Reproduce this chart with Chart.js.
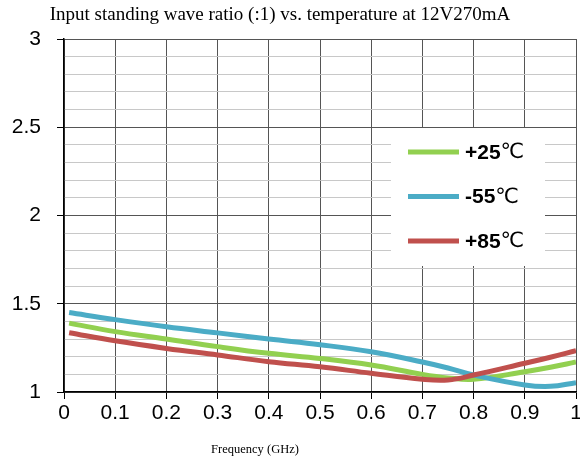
<!DOCTYPE html>
<html>
<head>
<meta charset="utf-8">
<script src="https://cdn.jsdelivr.net/npm/chart.js@4"></script>
<style>
  body { margin: 0; background: #fff; }
  #wrap { width: 580px; height: 463px; }
</style>
</head>
<body>
<div id="wrap"><canvas id="chart" width="580" height="463"></canvas></div>
<script>
const titleText = 'Input standing wave ratio (:1) vs. temperature at 12V270mA';
const xTitle = 'Frequency (GHz)';

const freqs = [0.01, 0.1, 0.2, 0.3, 0.4, 0.5, 0.6, 0.7, 0.75, 0.8, 0.9, 0.95, 1.0];
const plus25 = [1.39, 1.342, 1.30, 1.257, 1.219, 1.19, 1.153, 1.10, 1.08, 1.072, 1.115, 1.14, 1.17];
const minus55 = [1.45, 1.41, 1.37, 1.335, 1.30, 1.268, 1.228, 1.17, 1.136, 1.096, 1.04, 1.032, 1.053];
const plus85 = [1.336, 1.29, 1.247, 1.21, 1.172, 1.143, 1.106, 1.072, 1.068, 1.096, 1.163, 1.197, 1.234];

const seriesLabels = ['+25℃', '-55℃', '+85℃'];
const seriesColors = ['#92d050', '#4bacc6', '#c0504d'];

const pts = vals => vals.map((v, i) => ({ x: freqs[i], y: v }));

// legend box + titles drawn on the canvas
const extras = {
  id: 'extras',
  afterDraw(chart) {
    const ctx = chart.ctx;
    const a = chart.chartArea;
    ctx.save();
    ctx.fillStyle = '#fff';
    ctx.fillRect(a.left + 327, a.top + 89, 154, 138);
    seriesLabels.forEach((lab, i) => {
      const y = a.top + 113 + i * 44.5;
      ctx.strokeStyle = seriesColors[i];
      ctx.lineWidth = 5;
      ctx.beginPath();
      ctx.moveTo(a.left + 344, y);
      ctx.lineTo(a.left + 395, y);
      ctx.stroke();
      const num = lab.replace('℃', '');
      ctx.fillStyle = '#000';
      ctx.textBaseline = 'middle';
      ctx.textAlign = 'left';
      ctx.font = 'bold 21px "Liberation Sans", Arial, sans-serif';
      ctx.fillText(num, a.left + 401, y + 1);
      const w = ctx.measureText(num).width;
      ctx.font = '21px "DejaVu Sans", "Noto Sans CJK SC", sans-serif';
      ctx.fillText('℃', a.left + 401 + w, y + 1);
    });
    ctx.fillStyle = '#000';
    ctx.textAlign = 'center';
    ctx.textBaseline = 'middle';
    ctx.font = '19px "Liberation Serif", "Times New Roman", serif';
    ctx.fillText(titleText, 280, 15);
    ctx.font = '12.5px "Liberation Serif", "Times New Roman", serif';
    ctx.fillText(xTitle, 255, 450);
    ctx.restore();
  }
};

const isMajor = v => Math.round(v * 10) % 5 === 0;

new Chart(document.getElementById('chart').getContext('2d'), {
  type: 'line',
  data: {
    datasets: [
      { label: seriesLabels[0], data: pts(plus25), borderColor: seriesColors[0], order: 2 },
      { label: seriesLabels[1], data: pts(minus55), borderColor: seriesColors[1], order: 1 },
      { label: seriesLabels[2], data: pts(plus85), borderColor: seriesColors[2], order: 0 }
    ]
  },
  options: {
    responsive: false,
    animation: false,
    layout: { padding: { top: 39, right: 4, bottom: 41, left: 0 } },
    elements: {
      line: { borderWidth: 5, tension: 0.4, fill: false },
      point: { radius: 0 }
    },
    plugins: {
      legend: { display: false },
      title: { display: false },
      tooltip: { enabled: false }
    },
    scales: {
      x: {
        type: 'linear',
        min: 0,
        max: 1,
        afterFit: s => { s.height = 30; s.paddingRight = 0; s.paddingLeft = 0; },
        ticks: {
          stepSize: 0.1,
          autoSkip: false,
          maxRotation: 0,
          padding: 2,
          color: '#000',
          font: { family: '"Liberation Sans", Arial, sans-serif', size: 21 },
          callback: v => String(Number(v.toFixed(1)))
        },
        grid: { color: '#555', tickColor: '#000', tickLength: 7, lineWidth: 1 },
        border: { color: '#000', width: 1.5 }
      },
      y: {
        min: 1,
        max: 3,
        afterFit: s => { s.width = 64; },
        ticks: {
          stepSize: 0.1,
          autoSkip: false,
          padding: 16,
          color: '#000',
          font: { family: '"Liberation Sans", Arial, sans-serif', size: 21 },
          callback: v => isMajor(v) ? String(Math.round(v * 10) / 10) : ''
        },
        grid: {
          color: c => isMajor(c.tick.value) ? '#555' : '#c8c8c8',
          tickColor: c => isMajor(c.tick.value) ? '#000' : 'rgba(0,0,0,0)',
          tickLength: 7,
          lineWidth: 1
        },
        border: { color: '#000', width: 1.5 }
      }
    }
  },
  plugins: [extras]
});
</script>
</body>
</html>
